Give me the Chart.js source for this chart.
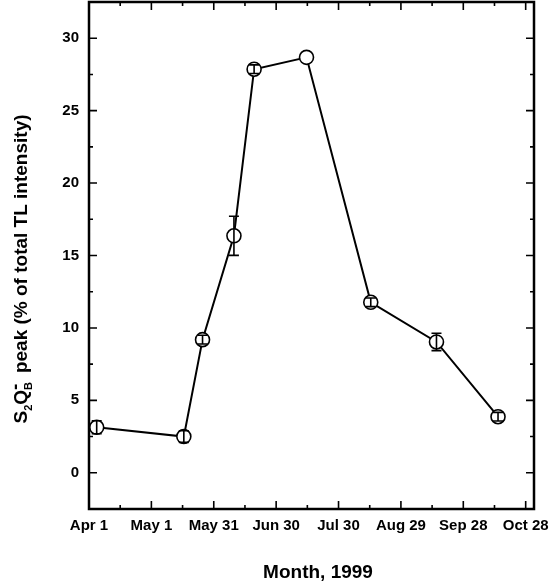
<!DOCTYPE html>
<html>
<head>
<meta charset="utf-8">
<script src="https://cdn.jsdelivr.net/npm/chart.js@4.4.0/dist/chart.umd.min.js"></script>
<style>
  html, body { margin: 0; padding: 0; background: #fff; }
  #wrap { width: 553px; height: 584px; position: relative; }
</style>
</head>
<body>
<div id="wrap"><canvas id="c"></canvas></div>
<script>
// sampling days, counted from Apr 1 1999
const sampleDays = [3.7, 45.6, 54.6, 69.7, 79.4, 104.6, 135.5, 167.1, 196.7];
const peakShare = [3.14, 2.5, 9.19, 16.36, 27.86, 28.68, 11.77, 9.03, 3.87];
const peakErr = [0.45, 0.4, 0.3, 1.35, 0.3, 0, 0.3, 0.6, 0.3];

const xTickDays = [0, 30, 60, 90, 120, 150, 180, 210];
const xTickLabels = ['Apr 1', 'May 1', 'May 31', 'Jun 30', 'Jul 30', 'Aug 29', 'Sep 28', 'Oct 28'];
const yTicks = [0, 5, 10, 15, 20, 25, 30];

const FONT = '"Liberation Sans", Arial, sans-serif';

// error bars with caps, drawn over the markers
const errorBars = {
  id: 'errorBars',
  afterDatasetsDraw(chart) {
    const ctx = chart.ctx, x = chart.scales.x, y = chart.scales.y;
    ctx.save();
    ctx.strokeStyle = '#000';
    ctx.lineWidth = 1.6;
    sampleDays.forEach((d, i) => {
      if (!peakErr[i]) return;
      const px = x.getPixelForValue(d);
      const top = y.getPixelForValue(peakShare[i] + peakErr[i]);
      const bot = y.getPixelForValue(peakShare[i] - peakErr[i]);
      ctx.beginPath();
      ctx.moveTo(px, top); ctx.lineTo(px, bot);
      ctx.moveTo(px - 5, top); ctx.lineTo(px + 5, top);
      ctx.moveTo(px - 5, bot); ctx.lineTo(px + 5, bot);
      ctx.stroke();
    });
    ctx.restore();
  }
};

// box frame, inward ticks on all four sides, axis titles
const frame = {
  id: 'frame',
  afterDraw(chart) {
    const ctx = chart.ctx, a = chart.chartArea;
    const x = chart.scales.x, y = chart.scales.y;
    ctx.save();
    ctx.strokeStyle = '#000';
    ctx.lineWidth = 2.5;
    ctx.strokeRect(a.left, a.top, a.right - a.left, a.bottom - a.top);

    ctx.lineWidth = 1.6;
    ctx.beginPath();
    xTickDays.forEach(d => {
      for (const [v, len] of [[d, 8], [d + 15, 4]]) {
        if (v <= x.min || v >= x.max) continue;
        const px = x.getPixelForValue(v);
        ctx.moveTo(px, a.bottom); ctx.lineTo(px, a.bottom - len);
        ctx.moveTo(px, a.top); ctx.lineTo(px, a.top + len);
      }
    });
    yTicks.forEach(t => {
      for (const [v, len] of [[t, 8], [t - 2.5, 4], [t + 2.5, 4]]) {
        if (v <= y.min || v >= y.max) continue;
        const py = y.getPixelForValue(v);
        ctx.moveTo(a.left, py); ctx.lineTo(a.left + len, py);
        ctx.moveTo(a.right, py); ctx.lineTo(a.right - len, py);
      }
    });
    ctx.stroke();

    // x title
    ctx.fillStyle = '#000';
    ctx.font = 'bold 19px ' + FONT;
    ctx.textAlign = 'center';
    ctx.textBaseline = 'alphabetic';
    ctx.fillText('Month, 1999', 318, 578);

    // y title with sub/superscripts
    ctx.translate(27, 269);
    ctx.rotate(-Math.PI / 2);
    ctx.textAlign = 'left';
    const big = 'bold 19px ' + FONT, small = 'bold 11px ' + FONT;
    const parts = [
      { t: 'S', f: big, dy: 0 },
      { t: '2', f: small, dy: 5 },
      { t: 'Q', f: big, dy: 0 },
      { t: 'B', f: small, dy: 5, stack: true },
      { t: '-', f: big, dy: -6 },
      { t: '  peak (% of total TL intensity)', f: big, dy: 0 }
    ];
    let total = 0;
    const widths = parts.map(p => { ctx.font = p.f; return ctx.measureText(p.t).width; });
    parts.forEach((p, i) => { if (!p.stack) total += widths[i]; });
    let cx = -total / 2;
    parts.forEach((p, i) => {
      ctx.font = p.f;
      ctx.fillText(p.t, cx, p.dy);
      if (!p.stack) cx += widths[i];
    });
    ctx.restore();
  }
};

const tickFont = { family: FONT, size: 15, weight: 'bold' };

new Chart(document.getElementById('c'), {
  type: 'line',
  data: {
    datasets: [{
      data: sampleDays.map((d, i) => ({ x: d, y: peakShare[i] })),
      borderColor: '#000',
      borderWidth: 2,
      pointRadius: 7,
      pointBackgroundColor: '#fff',
      pointBorderColor: '#000',
      pointBorderWidth: 1.6,
      tension: 0
    }]
  },
  options: {
    responsive: true,
    maintainAspectRatio: false,
    animation: false,
    layout: { autoPadding: false, padding: { top: 2, right: 19, left: 0, bottom: 0 } },
    plugins: { legend: { display: false }, tooltip: { enabled: false } },
    scales: {
      x: {
        type: 'linear', min: 0, max: 214,
        grid: { display: false, drawTicks: false },
        border: { display: false },
        afterBuildTicks: s => { s.ticks = xTickDays.map(v => ({ value: v })); },
        ticks: {
          callback: (v, i) => xTickLabels[i],
          color: '#000', font: tickFont, padding: 8,
          maxRotation: 0, autoSkip: false
        },
        afterFit: s => { s.height = 75; s.paddingLeft = 0; s.paddingRight = 0; }
      },
      y: {
        min: -2.5, max: 32.5,
        grid: { display: false, drawTicks: false },
        border: { display: false },
        afterBuildTicks: s => { s.ticks = yTicks.map(v => ({ value: v })); },
        ticks: { color: '#000', font: tickFont, padding: 10 },
        afterFit: s => { s.width = 89; s.paddingTop = 0; s.paddingBottom = 0; }
      }
    }
  },
  plugins: [errorBars, frame]
});
</script>
</body>
</html>
